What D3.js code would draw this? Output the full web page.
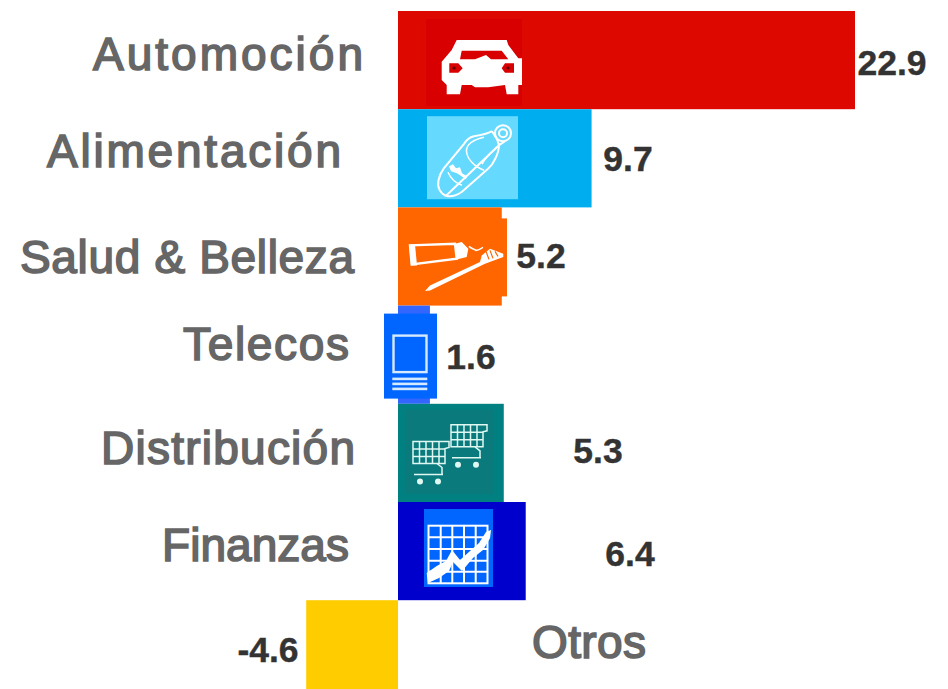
<!DOCTYPE html>
<html><head><meta charset="utf-8">
<script src="https://cdn.jsdelivr.net/npm/d3@7/dist/d3.min.js"></script>
<style>html,body{margin:0;padding:0;background:#fff;overflow:hidden}svg{display:block}
text{font-family:"Liberation Sans",Arial,sans-serif}</style>
</head><body><svg id="c" width="948" height="689"></svg>
<script>
const categories=["Automoción","Alimentación","Salud & Belleza","Telecos","Distribución","Finanzas","Otros"];
const values=[22.9,9.7,5.2,1.6,5.3,6.4,-4.6];
const barColors=["#dd0800","#00aeef","#ff6600","#3366ff","#008080","#0000cc","#ffcc00"];
const labelLeft=[93,47,20,183,101,162,532];
const labelRight=[363,341,354,349,355,349,646];
const labelBase=[70,167,273,360,464,561,658];
const valueCentre=[892,628,541,471,598,630,268];
const valueBase=[75,171,268,369,463,566,662];

const svg=d3.select("#c");
const x=d3.scaleLinear().domain([0,22.9]).range([398,855]);
const y=d3.scaleBand().domain(categories).range([11,698.4]).padding(0);

svg.selectAll("rect.bar").data(categories).join("rect").attr("class","bar")
 .attr("x",(d,i)=>Math.min(x(0),x(values[i]))).attr("y",d=>y(d))
 .attr("width",(d,i)=>Math.abs(x(values[i])-x(0))).attr("height",y.bandwidth())
 .attr("fill",(d,i)=>barColors[i]);

function icon(cat,dx,dy,w,h,fill){
  const g=svg.append("g").attr("transform",`translate(${x(0)+dx},${y(cat)+dy})`);
  g.append("rect").attr("width",w).attr("height",h).attr("fill",fill);
  return g;
}
const W="#fff";
// car
{const g=icon("Automoción",28,8,96,87,"#d80000");
 g.append("path").attr("fill",W).attr("d","M30.7 21H80.7L82.3 26L92.3 39.3H96V66H92.3V75.3H80.7L79 66L62.3 68.3H49L45.7 66H35.7L34 75.3H20.7V66L15.7 61V42.7L25.7 31Z");
 g.append("path").attr("fill","#d80000").attr("d","M35.7 31.7H75.7L82.3 40.3H65L60 36L49 40.3H34ZM23.3 44.3H32.3L36.7 49.3L32.3 53.7H23.3ZM75.7 49.3L79 44.3H88V53.7H79Z");
 g.append("circle").attr("cx",28).attr("cy",49).attr("r",1.6).attr("fill","#5a0000");
 g.append("circle").attr("cx",82).attr("cy",49).attr("r",1.6).attr("fill","#5a0000");
}
// bottle
{const g=icon("Alimentación",29,7,91,83,"#66d9ff");
 const s=g.append("g").attr("fill","none").attr("stroke",W).attr("stroke-width",2);
 s.append("path").attr("d","M19 79.5C13 77 10 71 11.5 64C12.5 59 14 56 17 52L36 29C39 24 42 21 47 20C54 19 60 18 65 15M72 29C72 35 70 39 68 43C66 48 64 50 61 52.5L35 75.5C30 79 24 81 19 79.5Z");
 s.append("circle").attr("cx",76).attr("cy",17).attr("r",8);
 s.append("circle").attr("cx",76).attr("cy",17).attr("r",4);
 s.append("path").attr("d","M65 15L70 23L72 29L78 25");
 s.append("path").attr("stroke-width",1.5).attr("d","M57 21C47 23 39 28 39.5 35C40 43 48 51 57 54M69.5 31C64 36 58 42 55 48M21 56C24 63 29 67 35 69");
 g.append("path").attr("fill",W).attr("d","M22 50L26 48L29 52L33 51L35 57L40 60L39 63L30 57L24 55Z");
}
// toothpaste
{const g=icon("Salud & Belleza",0,11,109,78,"#ff6600");
 g.append("path").attr("fill","none").attr("stroke",W).attr("stroke-width",2.4).attr("d","M12 27L57 25.3L58.7 40.3L13.7 46Z");
 g.append("path").attr("fill",W).attr("d","M11 26H17L19 47H13ZM57 25.3L63.7 23.7L70.3 30.3L68.7 38.7L58.7 41Z");
 g.append("path").attr("fill","none").attr("stroke",W).attr("stroke-width",1.6).attr("d","M71 28C74 31 76 30 78 32C81 32 83 30 85 29");
 g.append("path").attr("fill",W).attr("d","M27 72.7L32 67L82 43.7L83.7 37L92 30.3L105.3 35.3V38.7L87 45.3L32 72Z");
 g.append("path").attr("stroke","#ff6600").attr("stroke-width",1.2).attr("d","M88 33L91 41M92 32L95 40M97 33L100 38");
}
// phone
{const g=icon("Telecos",-14,8,53,85,"#0066ff");
 g.append("rect").attr("x",9.5).attr("y",22).attr("width",33).attr("height",36.5).attr("fill","none").attr("stroke","#d6eaff").attr("stroke-width",2.4);
 [64,69,74].forEach(l=>g.append("rect").attr("x",8.3).attr("y",l).attr("width",35).attr("height",2.6).attr("fill","#d6eaff"));
}
// shopping carts
{const g=svg.append("g").attr("transform",`translate(${x(0)},${y("Distribución")})`);
 g.append("rect").attr("x",7.5).attr("y",6).attr("width",88).attr("height",84).attr("fill","#0b7a7c");
 const cart=(ox,oy)=>{
  const c=g.append("g").attr("transform",`translate(${ox},${oy})`).attr("stroke","#dff8f2").attr("fill","none").attr("stroke-width",1.5);
  c.append("path").attr("d","M0 0H36V6L32 7V22H0ZM0 7.5H32M0 15H32M6.5 0V22M13 0V22M19.5 0V22M26 0V22");
  c.append("path").attr("d","M24 22L29 26V33M1 33H30");
  c.append("circle").attr("cx",7).attr("cy",40).attr("r",3).attr("fill","#dff8f2").attr("stroke","none");
  c.append("circle").attr("cx",25).attr("cy",40).attr("r",3).attr("fill","#dff8f2").attr("stroke","none");
 };
 cart(15,37.7); cart(53,21);
}
// finance chart
{const g=icon("Finanzas",26,7,69,78,"#0066ff");
 const s=g.append("g").attr("stroke",W).attr("stroke-width",2).attr("fill","none");
 s.append("rect").attr("x",4.5).attr("y",16.7).attr("width",59).attr("height",57.6);
 [28.3,40,51.7,62.7].forEach(l=>s.append("path").attr("d",`M4 ${l}H64`));
 [16.7,28.3,40,51.7].forEach(l=>s.append("path").attr("d",`M${l} 16V75`));
 g.append("path").attr("fill",W).attr("d","M2.7 64L12.7 57L22 52L28 41L36 51L42.7 45L55 34L62 23L67 21L66 29.3L59 41L49 49L38 62L29 53L25 62L15 69L4 74Z");
}

svg.selectAll("text.lab").data(categories).join("text").attr("class","lab")
 .attr("x",(d,i)=>labelLeft[i]).attr("y",(d,i)=>labelBase[i])
 .attr("textLength",(d,i)=>labelRight[i]-labelLeft[i]).attr("lengthAdjust","spacing")
 .attr("font-size",46).attr("fill","#666").attr("stroke","#666").attr("stroke-width",1.6).text(d=>d);
svg.selectAll("text.val").data(values).join("text").attr("class","val")
 .attr("x",(d,i)=>valueCentre[i]).attr("y",(d,i)=>valueBase[i]).attr("text-anchor","middle")
 .attr("font-size",35.5).attr("font-weight",700).attr("fill","#333").attr("stroke","#333").attr("stroke-width",0.4).text(d=>d3.format(".1f")(d).replace("−","-"));
</script></body></html>
